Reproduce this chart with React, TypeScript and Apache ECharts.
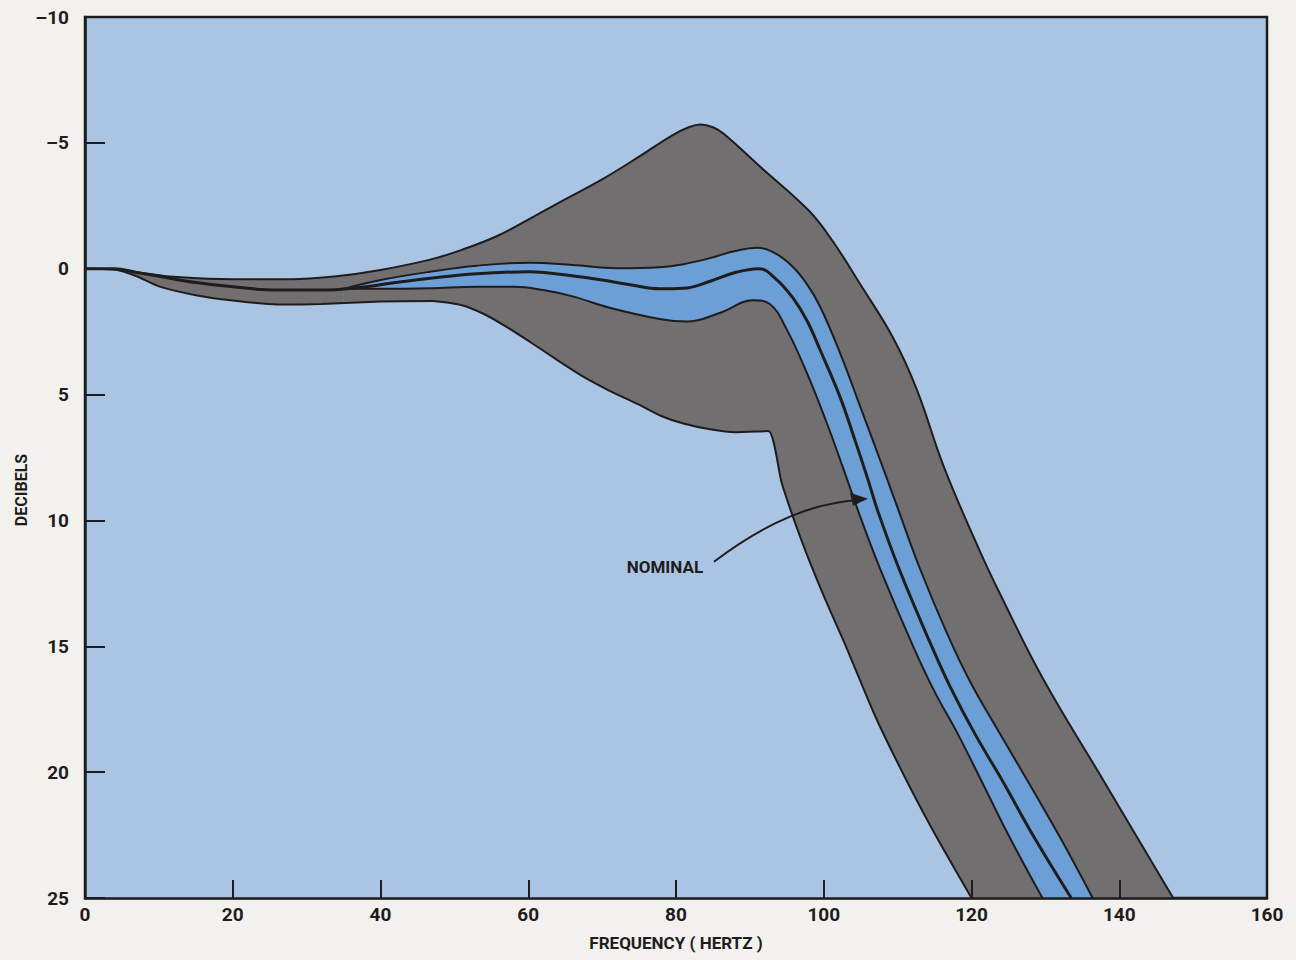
import React, { useEffect, useRef } from "react";
import * as echarts from "echarts";

// Frequency (Hz) vs. response (dB)
const upperOuter: [number, number][] = [
  [0, 0], [4, 0.02], [8, 0.18], [12, 0.32], [20, 0.42], [28, 0.42], [34, 0.3], [40, 0.05],
  [46.7, -0.36], [51, -0.75], [55.8, -1.3], [60, -1.95], [64.3, -2.65], [70, -3.55],
  [75, -4.45], [79.5, -5.3], [81.8, -5.63], [83.3, -5.73], [85, -5.62], [86.5, -5.35],
  [91.4, -4.05], [98, -2.3], [101.2, -1.1], [104.9, 0.6], [109.4, 2.75], [112.6, 4.8],
  [116.3, 7.9], [121.1, 11.2], [124, 13.0], [129.7, 16.3], [137.8, 20.3], [147.3, 25],
];

const lowerOuter: [number, number][] = [
  [0, 0], [4, 0.03], [7, 0.3], [10, 0.7], [15, 1.05], [20, 1.26], [26, 1.42], [32, 1.4],
  [40, 1.3], [47, 1.28], [51, 1.45], [54, 1.8], [57, 2.3], [60.2, 2.9], [64.3, 3.7],
  [67.5, 4.3], [71, 4.85], [75, 5.4], [78, 5.85], [81, 6.15], [84.6, 6.38], [88, 6.5],
  [92.5, 6.45], [94.3, 8.5], [97, 10.8], [100, 13.0], [103, 15], [107, 17.8],
  [111.5, 20.5], [115.5, 22.7], [120, 25],
];

const upperInner: [number, number][] = [
  [35, 0.8], [40, 0.45], [46.7, 0.12], [53, -0.12], [60.2, -0.24], [66, -0.15], [72, -0.02],
  [77.8, -0.06], [81, -0.18], [84.6, -0.42], [88, -0.7], [91, -0.83], [93.5, -0.6],
  [95.8, -0.08], [97.7, 0.6], [99.5, 1.5], [102.2, 3.34], [104.9, 5.45], [107.5, 7.5],
  [110, 9.5], [113, 11.9], [116.7, 14.5], [119.8, 16.4], [123.5, 18.3], [127.5, 20.3],
  [132, 22.6], [136.4, 25],
];

const lowerInner: [number, number][] = [
  [35, 0.8], [40, 0.8], [46.7, 0.78], [53, 0.72], [58, 0.72], [62, 0.85], [66, 1.1],
  [71, 1.55], [77.8, 2.0], [81.5, 2.1], [86, 1.75], [90.4, 1.25], [92.7, 1.4], [95, 2.42],
  [97.7, 4.13], [100.4, 6.12], [102.6, 7.9], [105, 9.9], [107.6, 11.9], [112.1, 15.0],
  [115, 16.8], [118, 18.4], [121.1, 20.2], [125, 22.5], [129.6, 25],
];

const nominal: [number, number][] = [
  [0, 0], [4, 0], [7, 0.15], [10, 0.3], [15, 0.55], [20, 0.72], [26, 0.85], [32, 0.85],
  [37, 0.75], [42, 0.55], [46.7, 0.38], [53, 0.2], [60.2, 0.12], [64.3, 0.22], [70, 0.45],
  [73.8, 0.64], [77.8, 0.8], [81, 0.78], [84.6, 0.5], [88, 0.15], [91.2, 0.0], [93.5, 0.4],
  [95.8, 1.15], [97.7, 2.05], [99.5, 3.22], [102.2, 5.09], [104.2, 6.79], [105.9, 8.3],
  [107.4, 9.7], [110.3, 12.0], [114.4, 14.86], [117.1, 16.6], [120.5, 18.5], [124.3, 20.4],
  [128.5, 22.6], [133.5, 25],
];

// annotation anchor points (data coordinates)
const nominalLabelAt: [number, number] = [78.5, 11.84];
const arrowCurve: [number, number][] = [[85.14, 11.64], [92.72, 9.97], [98.82, 9.3], [104.91, 9.18]];
const arrowHead: [number, number][] = [[105.99, 9.14], [103.55, 8.9], [103.96, 9.42]];

const FONT = "Roboto, 'Liberation Sans', sans-serif";
const INK = "#1e1c1d";
const GRAY = "#726f70";
const MIDBLUE = "#6c9fd5";
const PLOTBG = "#aac5e3";
const PAGEBG = "#f3f1ee";
const SMOOTH = 0.4;
const SMOOTH_LOWER = 0.2;

export default function App() {
  const ref = useRef<HTMLDivElement>(null);

  useEffect(() => {
    const chart = echarts.init(ref.current!, null, { renderer: "svg" });

    const fill = (name: string, data: [number, number][], color: string, smooth = SMOOTH) => ({
      type: "line",
      name,
      data,
      smooth,
      symbol: "none",
      silent: true,
      lineStyle: { width: 0, opacity: 0 },
      areaStyle: { color, opacity: 1, origin: "end" },
      z: 2,
    });
    const edge = (name: string, data: [number, number][], width: number, smooth = SMOOTH) => ({
      type: "line",
      name,
      data,
      smooth,
      symbol: "none",
      silent: true,
      lineStyle: { color: INK, width },
      z: 3,
    });

    const minus = (v: number) => (v < 0 ? "\u2013" + Math.abs(v) : String(v));

    chart.setOption({
      animation: false,
      backgroundColor: PAGEBG,
      grid: {
        left: 85,
        top: 17,
        width: 1182,
        height: 881,
        show: true,
        backgroundColor: PLOTBG,
        borderColor: INK,
        borderWidth: 2.5,
        containLabel: false,
      },
      xAxis: {
        type: "value",
        min: 0,
        max: 160,
        interval: 20,
        z: 6,
        name: "FREQUENCY ( HERTZ )",
        nameLocation: "middle",
        nameGap: 36,
        nameTextStyle: { fontFamily: FONT, fontWeight: "bold", fontSize: 17, color: INK },
        axisLine: { show: true, onZero: false, lineStyle: { color: INK, width: 2.5 } },
        axisTick: { show: true, inside: true, length: 18, lineStyle: { color: INK, width: 2 } },
        axisLabel: { fontFamily: FONT, fontWeight: "bold", fontSize: 19, color: INK, margin: 7 },
        splitLine: { show: false },
      },
      yAxis: {
        type: "value",
        min: -10,
        max: 25,
        interval: 5,
        inverse: true,
        z: 6,
        axisLine: { show: true, onZero: false, lineStyle: { color: INK, width: 2.5 } },
        axisTick: { show: true, inside: true, length: 20, lineStyle: { color: INK, width: 2 } },
        axisLabel: {
          fontFamily: FONT,
          fontWeight: "bold",
          fontSize: 19,
          color: INK,
          margin: 16,
          formatter: minus,
        },
        splitLine: { show: false },
      },
      series: [
        fill("outer band", upperOuter, GRAY),
        fill("inner band", upperInner, MIDBLUE),
        fill("inner lower", lowerInner, GRAY),
        fill("outer lower", lowerOuter, PLOTBG, SMOOTH_LOWER),
        edge("upper limit", upperOuter, 2),
        edge("lower limit", lowerOuter, 2, SMOOTH_LOWER),
        edge("inner upper limit", upperInner, 2),
        edge("inner lower limit", lowerInner, 2),
        edge("nominal", nominal, 3),
      ],
    });

    const px = (p: [number, number]) => chart.convertToPixel({ gridIndex: 0 }, p) as number[];
    const lbl = px(nominalLabelAt);
    const c = arrowCurve.map(px);
    const h = arrowHead.map(px);

    chart.setOption({
      graphic: [
        {
          type: "text",
          x: 21,
          y: 490,
          rotation: Math.PI / 2,
          style: {
            text: "DECIBELS",
            fontFamily: FONT,
            fontWeight: "bold",
            fontSize: 16,
            fill: INK,
            align: "center",
            verticalAlign: "middle",
          },
        },
        {
          type: "text",
          x: lbl[0],
          y: lbl[1],
          style: {
            text: "NOMINAL",
            fontFamily: FONT,
            fontWeight: "bold",
            fontSize: 17,
            fill: INK,
            align: "center",
            verticalAlign: "middle",
          },
          z: 10,
        },
        {
          type: "bezierCurve",
          shape: {
            x1: c[0][0], y1: c[0][1],
            cpx1: c[1][0], cpy1: c[1][1],
            cpx2: c[2][0], cpy2: c[2][1],
            x2: c[3][0], y2: c[3][1],
          },
          style: { stroke: INK, lineWidth: 2, fill: null },
          z: 10,
        },
        {
          type: "polygon",
          shape: { points: h.map((q) => [q[0], q[1]]) },
          style: { fill: INK },
          z: 10,
        },
      ],
    });

    return () => chart.dispose();
  }, []);

  return (
    <div
      ref={ref}
      style={{ position: "fixed", left: 0, top: 0, width: 1296, height: 960, background: PAGEBG }}
    />
  );
}
